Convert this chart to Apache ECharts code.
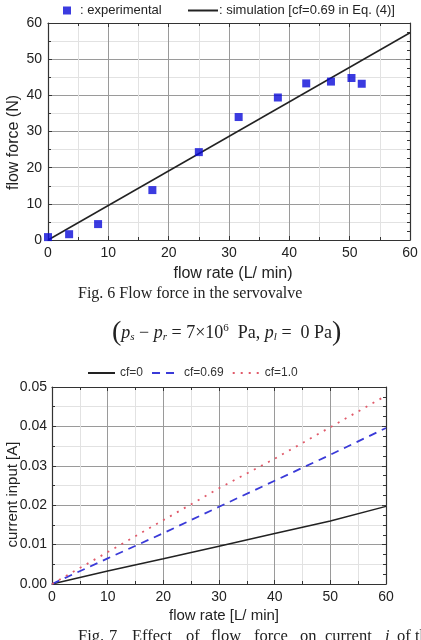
<!DOCTYPE html>
<html><head><meta charset="utf-8">
<script src="https://cdn.jsdelivr.net/npm/echarts@6/dist/echarts.min.js"></script>
<style>html,body{margin:0;padding:0;background:#fff}#c{width:421px;height:640px}</style>
</head><body><div id="c"></div>
<script>
// Fig. 6 data
var expFlow = [0, 3.5, 8.3, 17.3, 25.0, 31.6, 38.1, 42.8, 46.9, 50.3, 52.0];
var expForce = [0.8, 1.6, 4.4, 13.8, 24.3, 34.0, 39.4, 43.3, 43.8, 44.8, 43.2];
var simFlow = [0, 60];
var simForce = [0, 57.3];
// Fig. 7 data
var flowRate = [0, 10, 20, 30, 40, 50, 60];
var cf0 = [0, 0.0033, 0.0064, 0.0096, 0.0128, 0.0160, 0.0197];
var cf069 = [0, 0.0065, 0.0129, 0.0196, 0.0262, 0.0328, 0.0396];
var cf10 = [0, 0.0081, 0.0162, 0.0243, 0.0318, 0.0398, 0.0478];

function zip(a, b) { return a.map(function (v, i) { return [v, b[i]]; }); }

var FONT = 'Liberation Sans, Arial, sans-serif';
var SERIF = 'Liberation Serif, Times New Roman, serif';
var FRAME = '#333';

function axisBase(o) {
  var base = {
    axisLine: { show: true, onZero: false, lineStyle: { color: FRAME, width: 1.2 } },
    axisTick: { show: true, inside: true, length: 4, lineStyle: { color: FRAME } },
    minorTick: { show: true, splitNumber: 2, length: 3, lineStyle: { color: FRAME } },
    splitLine: { show: false },
    minorSplitLine: { show: false },
    axisLabel: { show: false },
    nameMoveOverlap: false
  };
  for (var k in o) base[k] = o[k];
  return base;
}

var majorGrid = { show: true, lineStyle: { color: '#9a9a9a', width: 1 } };
var minorGrid = { show: true, lineStyle: { color: '#e2e2e2', width: 1 } };

var chart = echarts.init(document.getElementById('c'), null, { renderer: 'canvas' });
var captionWords = ['Fig.', '7', 'Effect', 'of', 'flow', 'force', 'on', 'current', 'i', 'of', 'the'];
var captionX = [78, 109, 132, 186, 211, 254, 300, 325, 385, 397, 415];
var graphics = [
  { type: 'text', left: 78, top: 286,
    style: { text: 'Fig. 6 Flow force in the servovalve', font: '16px ' + SERIF, fill: '#222' } },
  { type: 'text', left: 112, top: 319,
    style: {
      text: '{par|(}{i|p}{sub|s}{t| − }{i|p}{sub|r}{t| = 7×10}{sup|6}{t|  Pa, }{i|p}{sub|l}{t| =  0 Pa}{par|)}',
      fill: '#222',
      rich: {
        par: { fontFamily: SERIF, fontSize: 28, fill: '#222' },
        i: { fontFamily: SERIF, fontSize: 18, fontStyle: 'italic', fill: '#222' },
        sub: { fontFamily: SERIF, fontSize: 11, fontStyle: 'italic', fill: '#222', padding: [9, 0, 0, 0] },
        sup: { fontFamily: SERIF, fontSize: 11, fill: '#222', padding: [0, 0, 9, 0] },
        t: { fontFamily: SERIF, fontSize: 18, fill: '#222' }
      }
    } }
];
captionWords.forEach(function (w, i) {
  graphics.push({ type: 'text', x: captionX[i], y: 628,
    style: { text: w, font: (w === 'i' ? 'italic ' : '') + '16.5px ' + SERIF, fill: '#222' } });
});

chart.setOption({
  backgroundColor: '#fff',
  animation: false,
  textStyle: { fontFamily: FONT },
  grid: [
    { left: 48, right: 11, top: 23, height: 217, containLabel: false, outerBoundsMode: 'none' },
    { left: 52, right: 35, top: 387, height: 197, containLabel: false, outerBoundsMode: 'none' }
  ],
  legend: [
    { data: [': experimental'], left: 63, top: 4, padding: 0, itemWidth: 8, itemHeight: 8, itemGap: 0,
      textStyle: { fontSize: 13, color: '#222', fontFamily: FONT, padding: [0, 0, 0, 4] } },
    { data: [': simulation [cf=0.69 in Eq. (4)]'], left: 187, top: 4, padding: 0, itemWidth: 30, itemHeight: 8,
      itemStyle: { opacity: 0 },
      textStyle: { fontSize: 13, color: '#222', fontFamily: FONT, padding: [0, 0, 0, -4] } },
    { data: ['cf=0', 'cf=0.69', 'cf=1.0'], left: 87, top: 367, padding: 0, itemWidth: 27, itemHeight: 8, itemGap: 8,
      itemStyle: { opacity: 0 },
      textStyle: { fontSize: 12, color: '#333', fontFamily: FONT } }
  ],
  xAxis: [
    axisBase({ gridIndex: 0, type: 'value', position: 'bottom', min: 0, max: 60, interval: 10,
      splitLine: majorGrid, minorSplitLine: minorGrid,
      axisLabel: { show: true, fontSize: 14, color: '#222', margin: 6, fontFamily: FONT },
      name: 'flow rate (L/ min)', nameLocation: 'middle', nameGap: 26,
      nameTextStyle: { fontSize: 16, color: '#222', fontFamily: FONT, padding: [0, 0, 0, 8] } }),
    axisBase({ gridIndex: 0, type: 'value', position: 'top', min: 0, max: 60, interval: 10 }),
    axisBase({ gridIndex: 1, type: 'value', position: 'bottom', min: 0, max: 60, interval: 10,
      splitLine: majorGrid, minorSplitLine: minorGrid,
      axisLabel: { show: true, fontSize: 14, color: '#222', margin: 6, fontFamily: FONT },
      name: 'flow rate [L/ min]', nameLocation: 'middle', nameGap: 24,
      nameTextStyle: { fontSize: 15, color: '#222', fontFamily: FONT, padding: [0, 0, 0, 10] } }),
    axisBase({ gridIndex: 1, type: 'value', position: 'top', min: 0, max: 60, interval: 10 })
  ],
  yAxis: [
    axisBase({ gridIndex: 0, type: 'value', position: 'left', min: 0, max: 60, interval: 10,
      splitLine: majorGrid, minorSplitLine: minorGrid,
      axisLabel: { show: true, fontSize: 14, color: '#222', margin: 6, fontFamily: FONT },
      name: 'flow force (N)', nameLocation: 'middle', nameGap: 26,
      nameTextStyle: { fontSize: 16, color: '#222', fontFamily: FONT, padding: [0, 22, 0, 0] } }),
    axisBase({ gridIndex: 0, type: 'value', position: 'right', min: 0, max: 60, interval: 10,
      minorTick: { show: true, splitNumber: 4, length: 3, lineStyle: { color: FRAME } } }),
    axisBase({ gridIndex: 1, type: 'value', position: 'left', min: 0, max: 0.05, interval: 0.01,
      splitLine: majorGrid, minorSplitLine: minorGrid,
      axisLabel: { show: true, fontSize: 14, color: '#222', margin: 5, fontFamily: FONT,
        formatter: function (v) { return v.toFixed(2); } },
      name: 'current input [A]', nameLocation: 'middle', nameGap: 32,
      nameTextStyle: { fontSize: 15, color: '#222', fontFamily: FONT, padding: [0, 18, 0, 0] } }),
    axisBase({ gridIndex: 1, type: 'value', position: 'right', min: 0, max: 0.05, interval: 0.01,
      minorTick: { show: true, splitNumber: 4, length: 3, lineStyle: { color: FRAME } } })
  ],
  series: [
    { name: ': experimental', type: 'scatter', xAxisIndex: 0, yAxisIndex: 0,
      symbol: 'rect', symbolSize: 8, itemStyle: { color: '#0a0ad8' },
      data: zip(expFlow, expForce), z: 5 },
    { name: ': simulation [cf=0.69 in Eq. (4)]', type: 'line', xAxisIndex: 0, yAxisIndex: 0,
      symbol: 'none', lineStyle: { color: '#222', width: 1.5 }, itemStyle: { color: '#222' },
      data: zip(simFlow, simForce) },
    { name: 'cf=0', type: 'line', xAxisIndex: 2, yAxisIndex: 2, symbol: 'none',
      lineStyle: { color: '#222', width: 1.5 }, itemStyle: { color: '#222' },
      data: zip(flowRate, cf0) },
    { name: 'cf=0.69', type: 'line', xAxisIndex: 2, yAxisIndex: 2, symbol: 'none',
      lineStyle: { color: '#3a3ad8', width: 1.8, type: [8, 6] }, itemStyle: { color: '#3a3ad8' },
      data: zip(flowRate, cf069) },
    { name: 'cf=1.0', type: 'line', xAxisIndex: 2, yAxisIndex: 2, symbol: 'none',
      lineStyle: { color: '#e05a6a', width: 1.8, type: [2, 6] }, itemStyle: { color: '#e05a6a' },
      data: zip(flowRate, cf10) }
  ],
  graphic: graphics
});
</script></body></html>
